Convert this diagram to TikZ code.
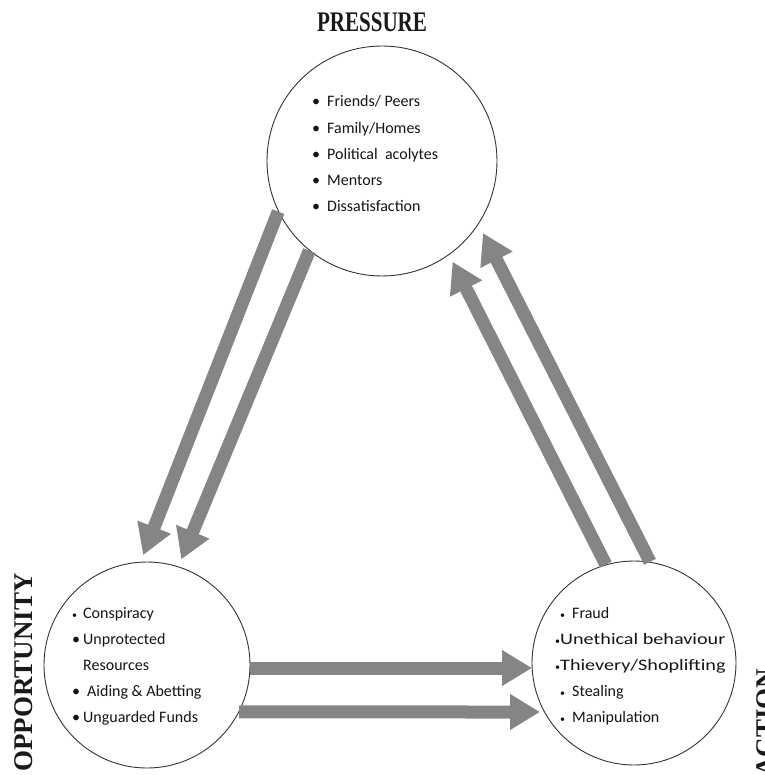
\documentclass[tikz,border=0pt]{standalone}
\usepackage{fontspec}
\usepackage{graphicx}
\setmainfont{Carlito}
\newfontfamily\titlefont{Liberation Serif}
\usetikzlibrary{arrows.meta,calc}
\newcommand{\smbul}{{\fontsize{10}{10}\selectfont\textbullet}}
\begin{document}
\begin{tikzpicture}[x=1pt,y=-1pt,
  ring/.style={circle, draw=black!80, line width=0.9pt, inner sep=0pt, minimum size=#1},
  item/.style={anchor=base west, inner sep=0pt, text=black!92, font=\fontsize{16}{19}\selectfont},
  bigarrow/.style={line width=13pt, draw=black!48, -{Triangle[length=30pt,width=34pt]}},
  title/.style={font=\titlefont\bfseries\fontsize{27}{30}\selectfont, inner sep=0pt, text=black!90}]
\useasboundingbox (0,0) rectangle (764,775);

% circles
\node[ring=230pt] (P) at (382,161) {};
\node[ring=206pt] (O) at (147,665) {};
\node[ring=204pt] (A) at (634,663) {};

% arrows
\draw[bigarrow] (P.206) -- ($(O.center)+(92:110pt)$);
\draw[bigarrow] (P.231) -- ($(O.center)+(72:111pt)$);
\draw[bigarrow] (A.106) -- ($(P.center)+(305:123pt)$);
\draw[bigarrow] (A.81) -- ($(P.center)+(324.5:124pt)$);
\draw[bigarrow] ($(O.center)+(103pt,-3pt)$) -- ($(A.center)+(-102pt,-5pt)$);
\draw[bigarrow] (O.-27) -- ($(A.center)+(-94pt,-49pt)$);

% titles
\node[title, anchor=base] (tP) at (372,32) {\scalebox{0.78}[1.05]{PRESSURE}};
\node[title, rotate=90, anchor=base west] (tO) at (32,772) {OPPORTUNITY};
\node[title, rotate=90, anchor=base west] (tA) at (774,777) {ACTION};

% pressure items
\foreach \t [count=\i] in {Friends/ Peers, Family/Homes, Political\ \ acolytes, Mentors, Dissatisfaction}
  \node[item] (p\i) at (312, {107+26.2*(\i-1)}) {\makebox[15pt][l]{\textbullet}\t};

% opportunity items
\node[item] (o1) at (72,618) {\makebox[11pt][l]{\smbul}Conspiracy};
\node[item] (o2) at (72,644) {\makebox[11pt][l]{\textbullet}Unprotected};
\node[item] (o3) at (83,670) {Resources};
\node[item] (o4) at (72,696) {\makebox[15pt][l]{\textbullet}Aiding \& Abetting};
\node[item] (o5) at (72,722) {\makebox[11pt][l]{\textbullet}Unguarded Funds};

% action items
\node[item] (a1) at (560,618) {\makebox[12pt][l]{\smbul}Fraud};
\node[item] (a2) at (555,644) {\makebox[5pt][l]{\smbul}\scalebox{1.26}[1]{Unethical behaviour}};
\node[item] (a3) at (555,670) {\makebox[5pt][l]{\smbul}\scalebox{1.26}[1]{Thievery/Shoplifting}};
\node[item] (a4) at (560,696) {\makebox[12pt][l]{\smbul}Stealing};
\node[item] (a5) at (560,722) {\makebox[12pt][l]{\smbul}Manipulation};
\end{tikzpicture}
\end{document}
